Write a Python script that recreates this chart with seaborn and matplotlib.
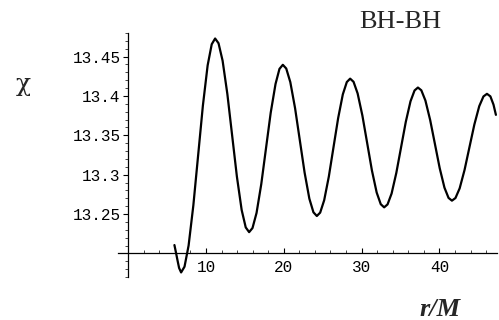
import numpy as np
import pandas as pd
import matplotlib
matplotlib.use("Agg")
import matplotlib.pyplot as plt
import seaborn as sns
from matplotlib.ticker import MultipleLocator, FixedLocator

# ---- data (chi versus r/M) ----
r_over_m = [5.95, 6.17, 6.35, 6.55, 6.81,
            7.247, 7.771, 8.383, 8.995, 9.607, 10.219, 10.743, 11.18,
            11.617, 12.141, 12.753, 13.365, 13.977, 14.589, 15.113, 15.55,
            15.983, 16.503, 17.109, 17.715, 18.321, 18.941, 19.447, 19.88,
            20.317, 20.841, 21.453, 22.065, 22.677, 23.289, 23.813, 24.25,
            24.678, 25.192, 25.791, 26.39, 26.989, 27.588, 28.102, 28.53,
            28.967, 29.491, 30.103, 30.715, 31.327, 31.939, 32.463, 32.90,
            33.334, 33.855, 34.462, 35.07, 35.678, 36.285, 36.806, 37.24,
            37.677, 38.201, 38.813, 39.425, 40.037, 40.649, 41.173, 41.61,
            42.06, 42.60, 43.23, 43.86, 44.49, 45.12, 45.66, 46.11,
            46.55, 46.95, 47.26]
chi = [13.2106, 13.200, 13.191, 13.1815, 13.1758,
       13.1831, 13.2099, 13.2611, 13.3244, 13.3877, 13.4389, 13.4657, 13.473,
       13.4670, 13.4448, 13.4024, 13.350, 13.2976, 13.2552, 13.2330, 13.227,
       13.2322, 13.2514, 13.2880, 13.3333, 13.3786, 13.4152, 13.4344, 13.4396,
       13.4349, 13.4176, 13.3845, 13.3436, 13.3027, 13.2695, 13.2522, 13.2475,
       13.2518, 13.2675, 13.2976, 13.3348, 13.3719, 13.4020, 13.4177, 13.422,
       13.4180, 13.4032, 13.3751, 13.3403, 13.3054, 13.2773, 13.2625, 13.2585,
       13.2622, 13.2760, 13.3022, 13.3346, 13.3670, 13.3932, 13.4070, 13.4107,
       13.4072, 13.3942, 13.3694, 13.3389, 13.3083, 13.2835, 13.2705, 13.267,
       13.2703, 13.2826, 13.3060, 13.3349, 13.3637, 13.3871, 13.3994, 13.4027,
       13.3995, 13.389, 13.376]

x_ticks = [10, 20, 30, 40]
x_tick_labels = ["10", "20", "30", "40"]
y_ticks = [13.25, 13.3, 13.35, 13.4, 13.45]
y_tick_labels = ["13.25", "13.3", "13.35", "13.4", "13.45"]

df = pd.DataFrame({"r": r_over_m, "chi": chi})

sns.set_style("white")
plt.rcParams["font.family"] = ["DejaVu Sans"]

fig = plt.figure(figsize=(4.99, 3.20), dpi=100)
ax = fig.add_axes([118 / 499, 1 - 277 / 320, 379 / 499, 244 / 320])

sns.lineplot(data=df, x="r", y="chi", color="black", linewidth=1.6, ax=ax,
             sort=False, estimator=None)
for ln in ax.lines:
    ln.set_solid_joinstyle("round")
    ln.set_solid_capstyle("round")

ax.set_xlim(-1.3, 47.4)
ax.set_ylim(13.17, 13.48)

for s in ["top", "right"]:
    ax.spines[s].set_visible(False)
ax.spines["left"].set_position(("data", 0))
ax.spines["bottom"].set_position(("data", 13.2))
for s in ["left", "bottom"]:
    ax.spines[s].set_linewidth(0.9)
    ax.spines[s].set_color("black")

ax.xaxis.set_major_locator(FixedLocator(x_ticks))
ax.xaxis.set_minor_locator(MultipleLocator(2))
ax.yaxis.set_major_locator(FixedLocator(y_ticks))
ax.yaxis.set_minor_locator(MultipleLocator(0.01))
ax.set_xticklabels(x_tick_labels, fontfamily="Liberation Mono", fontsize=11.5)
ax.set_yticklabels(y_tick_labels, fontfamily="Liberation Mono", fontsize=11.5)

ax.tick_params(axis="x", which="major", direction="in", length=3.5, width=0.8,
               pad=5, colors="black", bottom=True)
ax.tick_params(axis="x", which="minor", direction="in", length=2, width=0.6,
               bottom=True)
ax.tick_params(axis="y", which="major", direction="out", length=3.5, width=0.8,
               pad=2, colors="black", left=True)
ax.tick_params(axis="y", which="minor", direction="out", length=2, width=0.6,
               left=True)

ax.set_xlabel("")
ax.set_ylabel("")

fig.text(23 / 499, 1 - 85 / 320, "\u03c7", fontfamily="DejaVu Serif",
         fontsize=18, ha="center", va="center")
fig.text(400 / 499, 1 - 22 / 320, "BH-BH", fontfamily="Liberation Serif",
         fontsize=19, ha="center", va="center")
fig.text(440 / 499, 1 - 309 / 320, "r/M", fontfamily="Liberation Serif",
         fontsize=19, fontstyle="italic", fontweight="bold",
         ha="center", va="center")

fig.savefig("out.png", dpi=100)
